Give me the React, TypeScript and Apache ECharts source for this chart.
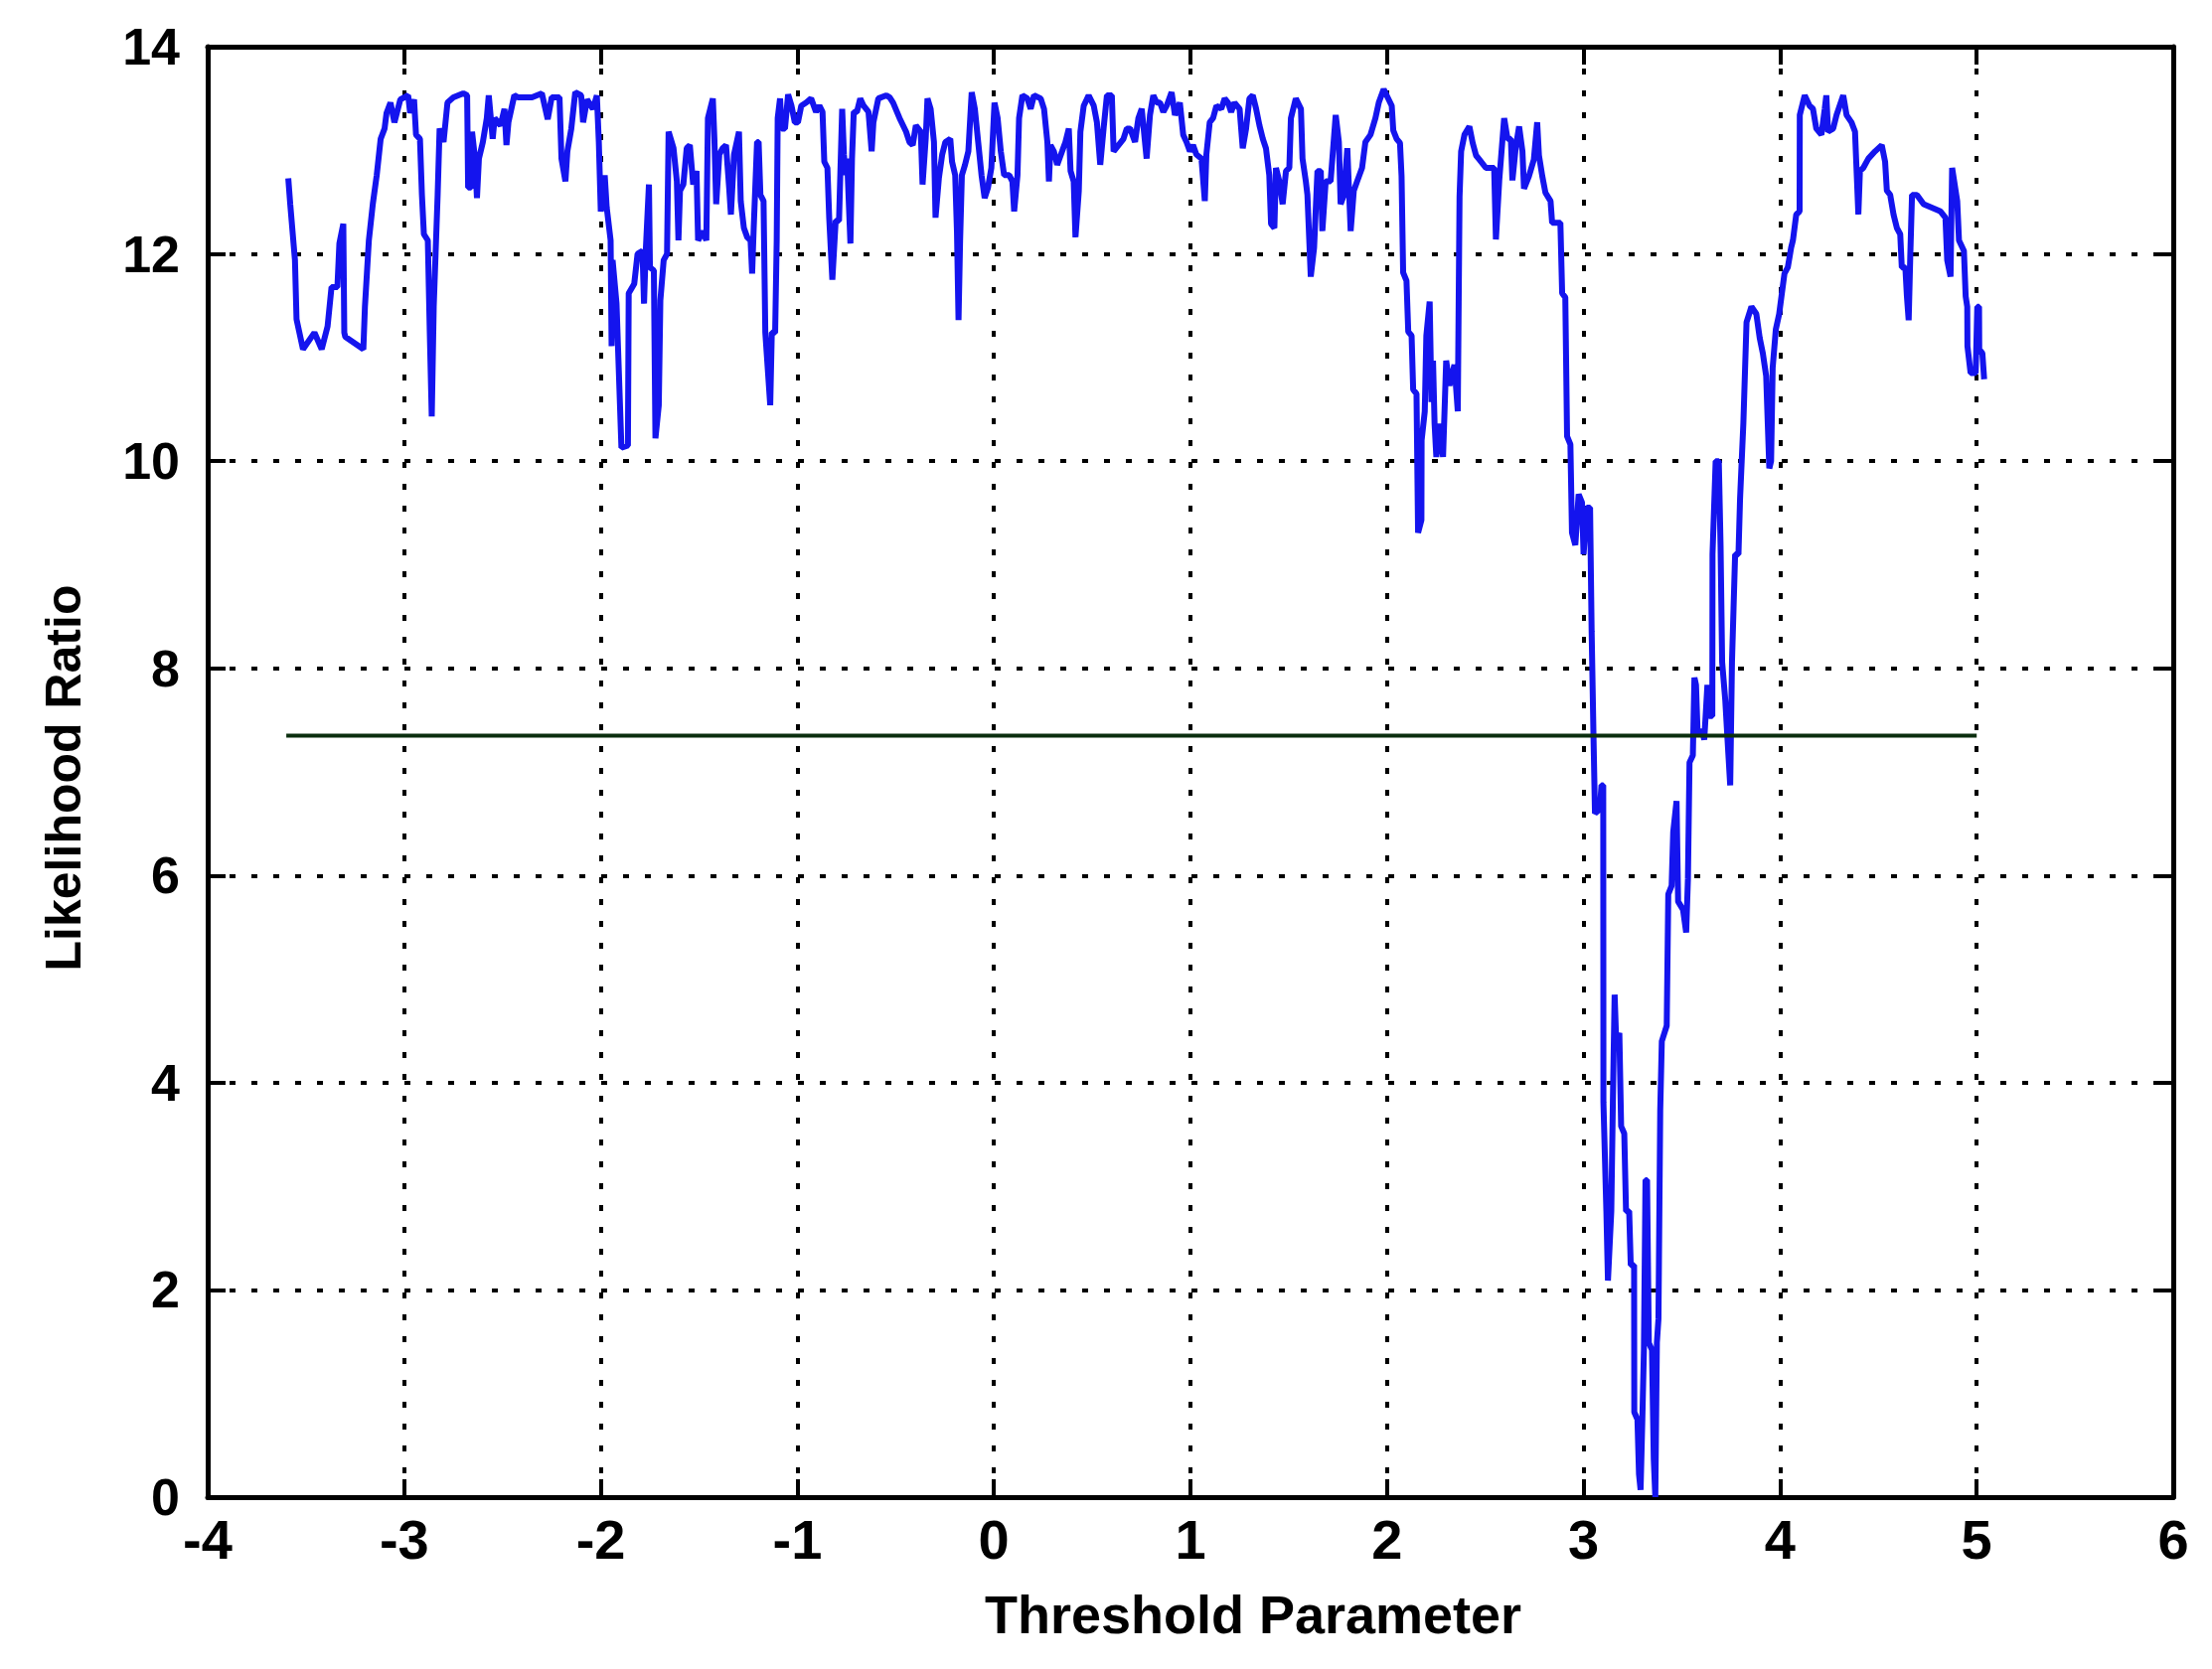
import React, { useEffect, useRef } from "react";
import * as echarts from "echarts";

type Pt = [number, number];

// Likelihood ratio curve (x = threshold parameter, y = likelihood ratio)
const segA: Pt[] = [
  [-3.59, 12.73], [-3.58, 12.48], [-3.556, 11.94], [-3.548, 11.37], [-3.515, 11.08], [-3.457, 11.24],
  [-3.42, 11.08], [-3.39, 11.3], [-3.37, 11.68], [-3.34, 11.68], [-3.33, 12.1], [-3.31, 12.29],
  [-3.305, 11.24], [-3.3, 11.2], [-3.208, 11.08], [-3.2, 11.49], [-3.18, 12.13], [-3.16, 12.48],
  [-3.14, 12.76], [-3.12, 13.11], [-3.1, 13.21], [-3.09, 13.36], [-3.07, 13.46], [-3.05, 13.27],
  [-3.02, 13.49], [-2.98, 13.53], [-2.97, 13.36], [-2.95, 13.49], [-2.94, 13.15], [-2.92, 13.11],
  [-2.91, 12.57], [-2.9, 12.19], [-2.88, 12.13], [-2.87, 11.24], [-2.86, 10.43], [-2.85, 11.49],
  [-2.83, 12.57], [-2.82, 13.21], [-2.8, 13.08], [-2.78, 13.46], [-2.75, 13.51], [-2.7, 13.55],
  [-2.68, 13.53], [-2.675, 12.64], [-2.66, 12.64], [-2.655, 13.18], [-2.64, 12.92], [-2.63, 12.54],
  [-2.62, 12.92], [-2.6, 13.08], [-2.58, 13.31], [-2.57, 13.53], [-2.55, 13.11], [-2.54, 13.31],
  [-2.51, 13.24], [-2.49, 13.4], [-2.48, 13.05], [-2.47, 13.27], [-2.44, 13.53], [-2.42, 13.51],
  [-2.35, 13.51], [-2.3, 13.55], [-2.27, 13.3], [-2.25, 13.51], [-2.21, 13.51], [-2.2, 12.92],
  [-2.18, 12.7], [-2.17, 12.99], [-2.15, 13.21], [-2.13, 13.56], [-2.1, 13.53], [-2.09, 13.27],
  [-2.07, 13.49], [-2.04, 13.4], [-2.02, 13.53], [-2.01, 13.08], [-2.0, 12.41], [-1.98, 12.76],
  [-1.97, 12.45], [-1.95, 12.13], [-1.945, 11.11], [-1.94, 11.94], [-1.92, 11.52], [-1.895, 10.13],
  [-1.862, 10.15], [-1.858, 11.62],
];

const segB: Pt[] = [
  [-1.83, 11.71], [-1.813, 12.0], [-1.788, 12.03], [-1.78, 11.52], [-1.772, 12.0], [-1.755, 12.67],
  [-1.75, 11.87], [-1.73, 11.84], [-1.722, 10.22], [-1.705, 10.54], [-1.697, 11.55], [-1.68, 11.94],
  [-1.663, 12.0], [-1.655, 13.18], [-1.63, 13.02], [-1.613, 12.7], [-1.605, 12.13], [-1.597, 12.61],
  [-1.58, 12.67], [-1.563, 13.02], [-1.547, 13.05], [-1.53, 12.67], [-1.513, 12.8], [-1.505, 12.13],
  [-1.48, 12.22], [-1.463, 12.13], [-1.455, 13.31], [-1.43, 13.5], [-1.422, 13.11], [-1.413, 12.48],
  [-1.397, 12.96], [-1.38, 13.02], [-1.363, 13.05], [-1.347, 12.64], [-1.338, 12.38], [-1.322, 12.96],
  [-1.297, 13.18], [-1.288, 12.51], [-1.272, 12.25], [-1.255, 12.16], [-1.238, 12.13], [-1.23, 11.81],
  [-1.222, 12.25], [-1.205, 13.08], [-1.197, 13.08], [-1.188, 12.57], [-1.172, 12.51], [-1.163, 11.24],
  [-1.138, 10.54], [-1.13, 11.24], [-1.113, 11.24], [-1.105, 12.13], [-1.1, 13.31], [-1.088, 13.5],
  [-1.08, 13.21], [-1.063, 13.21], [-1.047, 13.54], [-1.03, 13.43], [-1.013, 13.27], [-0.997, 13.27],
  [-0.98, 13.43], [-0.955, 13.46], [-0.93, 13.5], [-0.905, 13.37], [-0.888, 13.43], [-0.872, 13.37],
  [-0.863, 12.89], [-0.847, 12.83], [-0.838, 12.35], [-0.822, 11.75], [-0.805, 12.32], [-0.788, 12.32],
  [-0.772, 13.4], [-0.763, 12.96], [-0.755, 12.76], [-0.747, 12.92], [-0.73, 12.1], [-0.722, 12.92],
  [-0.713, 13.37], [-0.697, 13.37], [-0.68, 13.5], [-0.663, 13.43], [-0.638, 13.37], [-0.622, 12.99],
  [-0.613, 13.27], [-0.588, 13.5], [-0.547, 13.53], [-0.53, 13.51], [-0.513, 13.46], [-0.48, 13.31],
  [-0.447, 13.18], [-0.43, 13.08], [-0.413, 13.05], [-0.397, 13.24], [-0.372, 13.18], [-0.363, 12.67],
  [-0.347, 13.11], [-0.338, 13.5], [-0.322, 13.4], [-0.305, 13.08], [-0.297, 12.35], [-0.28, 12.73],
  [-0.263, 12.96], [-0.247, 13.08], [-0.222, 13.11], [-0.213, 12.89], [-0.197, 12.76], [-0.188, 12.22],
  [-0.18, 11.36], [-0.172, 12.13], [-0.163, 12.76], [-0.147, 12.86], [-0.13, 12.99], [-0.113, 13.56],
  [-0.097, 13.4], [-0.08, 13.08], [-0.063, 12.76], [-0.047, 12.54], [-0.03, 12.64], [-0.013, 12.83],
  [0.003, 13.46],
];

const segC: Pt[] = [
  [0.019, 13.31], [0.035, 12.99], [0.052, 12.76], [0.078, 12.76], [0.094, 12.7], [0.103, 12.41],
  [0.12, 12.76], [0.128, 13.31], [0.145, 13.53], [0.17, 13.5], [0.187, 13.4], [0.204, 13.53],
  [0.238, 13.5], [0.255, 13.4], [0.272, 13.08], [0.28, 12.7], [0.288, 13.05], [0.305, 12.99],
  [0.322, 12.86], [0.347, 12.99], [0.364, 13.08], [0.381, 13.21], [0.39, 12.8], [0.406, 12.7],
  [0.415, 12.16], [0.432, 12.61], [0.44, 13.18], [0.457, 13.43], [0.482, 13.53], [0.508, 13.43],
  [0.524, 13.27], [0.541, 12.86], [0.558, 13.21], [0.575, 13.53], [0.6, 13.53], [0.609, 12.99],
  [0.634, 13.05], [0.659, 13.11], [0.676, 13.21], [0.693, 13.21], [0.718, 13.08], [0.735, 13.31],
  [0.752, 13.4], [0.777, 12.92], [0.794, 13.34], [0.811, 13.53], [0.828, 13.46], [0.845, 13.46],
  [0.862, 13.37], [0.879, 13.43], [0.904, 13.56], [0.921, 13.34], [0.946, 13.46], [0.963, 13.15],
  [0.98, 13.08], [0.997, 12.99], [1.013, 13.05], [1.03, 12.96], [1.056, 12.92], [1.073, 12.51],
  [1.081, 12.96], [1.098, 13.27], [1.115, 13.31], [1.132, 13.43], [1.157, 13.4], [1.174, 13.5],
  [1.191, 13.46], [1.207, 13.37], [1.224, 13.46], [1.25, 13.4], [1.266, 13.02], [1.283, 13.21],
  [1.3, 13.5], [1.317, 13.53], [1.334, 13.4], [1.351, 13.24], [1.368, 13.11], [1.384, 13.02],
  [1.401, 12.76], [1.41, 12.29], [1.427, 12.25], [1.435, 12.83], [1.452, 12.7], [1.469, 12.48],
  [1.486, 12.8], [1.503, 12.83], [1.511, 13.31], [1.536, 13.5], [1.562, 13.4], [1.57, 12.92],
  [1.587, 12.7], [1.595, 12.57], [1.612, 11.78], [1.629, 12.06], [1.646, 12.8], [1.663, 12.8],
  [1.671, 12.22], [1.688, 12.7], [1.713, 12.7], [1.739, 13.34], [1.755, 13.08], [1.764, 12.48],
  [1.781, 12.57], [1.798, 13.02], [1.815, 12.22], [1.831, 12.61], [1.848, 12.7], [1.873, 12.83],
  [1.89, 13.08], [1.916, 13.15], [1.941, 13.31], [1.958, 13.46], [1.983, 13.59],
];

const segD: Pt[] = [
  [2.024, 13.43], [2.032, 13.19], [2.049, 13.11], [2.066, 13.07], [2.074, 12.75], [2.082, 11.82],
  [2.099, 11.74], [2.108, 11.25], [2.125, 11.21], [2.133, 10.69], [2.15, 10.65], [2.158, 9.31],
  [2.175, 9.43], [2.176, 10.2], [2.192, 10.48], [2.2, 11.21], [2.217, 11.54], [2.226, 10.57],
  [2.234, 10.97], [2.242, 10.36], [2.251, 10.04], [2.268, 10.36], [2.285, 10.04], [2.301, 10.97],
  [2.318, 10.73], [2.343, 10.93], [2.36, 10.48], [2.369, 12.55], [2.377, 12.99], [2.394, 13.15],
  [2.419, 13.23], [2.436, 13.07], [2.453, 12.95], [2.47, 12.91], [2.503, 12.83], [2.545, 12.83],
  [2.554, 12.14], [2.571, 12.71], [2.596, 13.31], [2.613, 13.11], [2.63, 13.11], [2.638, 12.71],
  [2.655, 13.03], [2.672, 13.23], [2.689, 12.99], [2.697, 12.63], [2.722, 12.75], [2.747, 12.91],
  [2.764, 13.27], [2.773, 12.95], [2.79, 12.75], [2.806, 12.59], [2.832, 12.51], [2.84, 12.3],
  [2.882, 12.3], [2.891, 11.62], [2.907, 11.58], [2.916, 10.24], [2.933, 10.16], [2.941, 9.31],
  [2.958, 9.19], [2.975, 9.68], [2.992, 9.6], [3.0, 9.1], [3.017, 9.55], [3.033, 9.55],
];

const segE: Pt[] = [
  [3.041, 8.36], [3.05, 7.39], [3.058, 6.6], [3.083, 6.64], [3.091, 6.87], [3.1, 6.87],
  [3.101, 3.81], [3.116, 2.76], [3.124, 2.09], [3.141, 2.76], [3.149, 3.81], [3.158, 4.85],
  [3.166, 4.4], [3.182, 4.48], [3.191, 3.58], [3.207, 3.51], [3.216, 2.76], [3.232, 2.76],
  [3.24, 2.24], [3.257, 2.24], [3.258, 0.82], [3.274, 0.75], [3.282, 0.22], [3.29, 0.07],
  [3.299, 0.75], [3.307, 1.42], [3.315, 3.06], [3.323, 3.06], [3.332, 1.49], [3.348, 1.42],
  [3.357, 0.37], [3.365, 0.0], [3.373, 1.49], [3.381, 1.72], [3.39, 3.73], [3.398, 4.4],
  [3.423, 4.55], [3.431, 5.82], [3.448, 5.9], [3.456, 6.42], [3.473, 6.72], [3.481, 5.75],
  [3.506, 5.67], [3.522, 5.45], [3.531, 5.97], [3.539, 7.09], [3.556, 7.16], [3.564, 7.91],
  [3.572, 7.84], [3.58, 7.39], [3.605, 7.39], [3.614, 7.31], [3.63, 7.84], [3.638, 7.54],
  [3.655, 7.54], [3.656, 9.1], [3.672, 10.0], [3.688, 10.0], [3.697, 9.18], [3.705, 8.06],
  [3.721, 7.69], [3.73, 7.39], [3.746, 6.87], [3.755, 8.06], [3.763, 8.58], [3.771, 9.1],
  [3.788, 9.1], [3.796, 9.63], [3.813, 10.37], [3.829, 11.34], [3.854, 11.49], [3.879, 11.42],
  [3.896, 11.19], [3.912, 11.04], [3.929, 10.82], [3.937, 10.37], [3.945, 9.93], [3.954, 10.0],
  [3.962, 10.9], [3.978, 11.27], [3.995, 11.42],
];

const segF: Pt[] = [
  [4.022, 11.81], [4.039, 11.87], [4.056, 12.06], [4.065, 12.13], [4.082, 12.38], [4.099, 12.41],
  [4.1, 13.34], [4.125, 13.53], [4.15, 13.43], [4.167, 13.4], [4.184, 13.21], [4.21, 13.15],
  [4.227, 13.4], [4.235, 13.53], [4.244, 13.18], [4.27, 13.21], [4.287, 13.34], [4.321, 13.53],
  [4.338, 13.34], [4.363, 13.27], [4.381, 13.18], [4.398, 12.38], [4.406, 12.8], [4.423, 12.83],
  [4.449, 12.92], [4.483, 12.99], [4.517, 13.05], [4.534, 12.89], [4.543, 12.61], [4.56, 12.57],
  [4.577, 12.38], [4.594, 12.25], [4.611, 12.19], [4.619, 11.87], [4.637, 11.87], [4.645, 11.59],
  [4.654, 11.36], [4.662, 11.97], [4.671, 12.57], [4.696, 12.57], [4.73, 12.48], [4.816, 12.41],
  [4.841, 12.35], [4.85, 11.94], [4.867, 11.78], [4.875, 12.83], [4.901, 12.51], [4.91, 12.13],
  [4.935, 12.03], [4.944, 11.59], [4.952, 11.49], [4.953, 11.11], [4.969, 10.85], [4.995, 10.85],
  [5.003, 11.49], [5.012, 11.49], [5.013, 11.08], [5.029, 11.04], [5.038, 10.79],
];

// Horizontal threshold (critical value) line
const thresholdX = [-3.6, 5.0];
const thresholdY = 7.35;

// Axis ticks
const xTicks = { min: -4, max: 6, step: 1 };
const yTicks = { min: 0, max: 14, step: 2 };

const xTitle = "Threshold Parameter";
const yTitle = "Likelihood Ratio";

const FONT = "'Liberation Sans', Arial, Helvetica, sans-serif";

export default function App() {
  const ref = useRef<HTMLDivElement>(null);

  useEffect(() => {
    if (!ref.current) return;
    const chart = echarts.init(ref.current, undefined, { renderer: "svg" });
    const curve: Pt[] = ([] as Pt[]).concat(segA, segB, segC, segD, segE, segF);
    const thresholdLine: Pt[] = thresholdX.map((x) => [x, thresholdY] as Pt);

    const gridLine = { color: "#000", width: 4, type: [6, 16] as number[] };
    const axisLine = { show: true, onZero: false, lineStyle: { color: "#000", width: 5 } };
    const tick = { show: true, inside: true, length: 18, lineStyle: { color: "#000", width: 4 } };

    const option: any = {
      animation: false,
      backgroundColor: "#ffffff",
      grid: { left: 209, right: 39, top: 47, bottom: 173, containLabel: false },
      xAxis: [
        {
          type: "value",
          min: xTicks.min,
          max: xTicks.max,
          interval: xTicks.step,
          position: "bottom",
          axisLine,
          axisTick: tick,
          axisLabel: {
            color: "#000",
            fontSize: 56,
            fontWeight: "bold",
            fontFamily: FONT,
            margin: 14,
          },
          splitLine: { show: true, lineStyle: gridLine },
        },
        {
          type: "value",
          min: xTicks.min,
          max: xTicks.max,
          interval: xTicks.step,
          position: "top",
          axisLine,
          axisTick: tick,
          axisLabel: { show: false },
          splitLine: { show: false },
        },
      ],
      yAxis: [
        {
          type: "value",
          min: yTicks.min,
          max: yTicks.max,
          interval: yTicks.step,
          position: "left",
          axisLine,
          axisTick: tick,
          axisLabel: {
            color: "#000",
            fontSize: 52,
            fontWeight: "bold",
            fontFamily: FONT,
            margin: 28,
          },
          splitLine: { show: true, lineStyle: gridLine },
        },
        {
          type: "value",
          min: yTicks.min,
          max: yTicks.max,
          interval: yTicks.step,
          position: "right",
          axisLine,
          axisTick: tick,
          axisLabel: { show: false },
          splitLine: { show: false },
        },
      ],
      graphic: [
        {
          type: "text",
          x: 1261,
          y: 1625,
          style: {
            text: xTitle,
            fill: "#000",
            font: `bold 54px ${FONT}`,
            textAlign: "center",
            textVerticalAlign: "middle",
          },
        },
        {
          type: "text",
          x: 64,
          y: 783,
          rotation: Math.PI / 2,
          style: {
            text: yTitle,
            fill: "#000",
            font: `bold 50px ${FONT}`,
            textAlign: "center",
            textVerticalAlign: "middle",
          },
        },
      ],
      series: [
        {
          type: "line",
          xAxisIndex: 0,
          yAxisIndex: 0,
          data: curve,
          showSymbol: false,
          symbol: "none",
          lineStyle: { color: "#1414ee", width: 6 },
          z: 3,
        },
        {
          type: "line",
          xAxisIndex: 0,
          yAxisIndex: 0,
          data: thresholdLine,
          showSymbol: false,
          symbol: "none",
          lineStyle: { color: "#0a2e0e", width: 4 },
          z: 4,
        },
      ],
    };
    chart.setOption(option);
    return () => chart.dispose();
  }, []);

  return (
    <div
      ref={ref}
      style={{ position: "fixed", left: 0, top: 0, width: 2226, height: 1680, background: "#fff" }}
    />
  );
}
